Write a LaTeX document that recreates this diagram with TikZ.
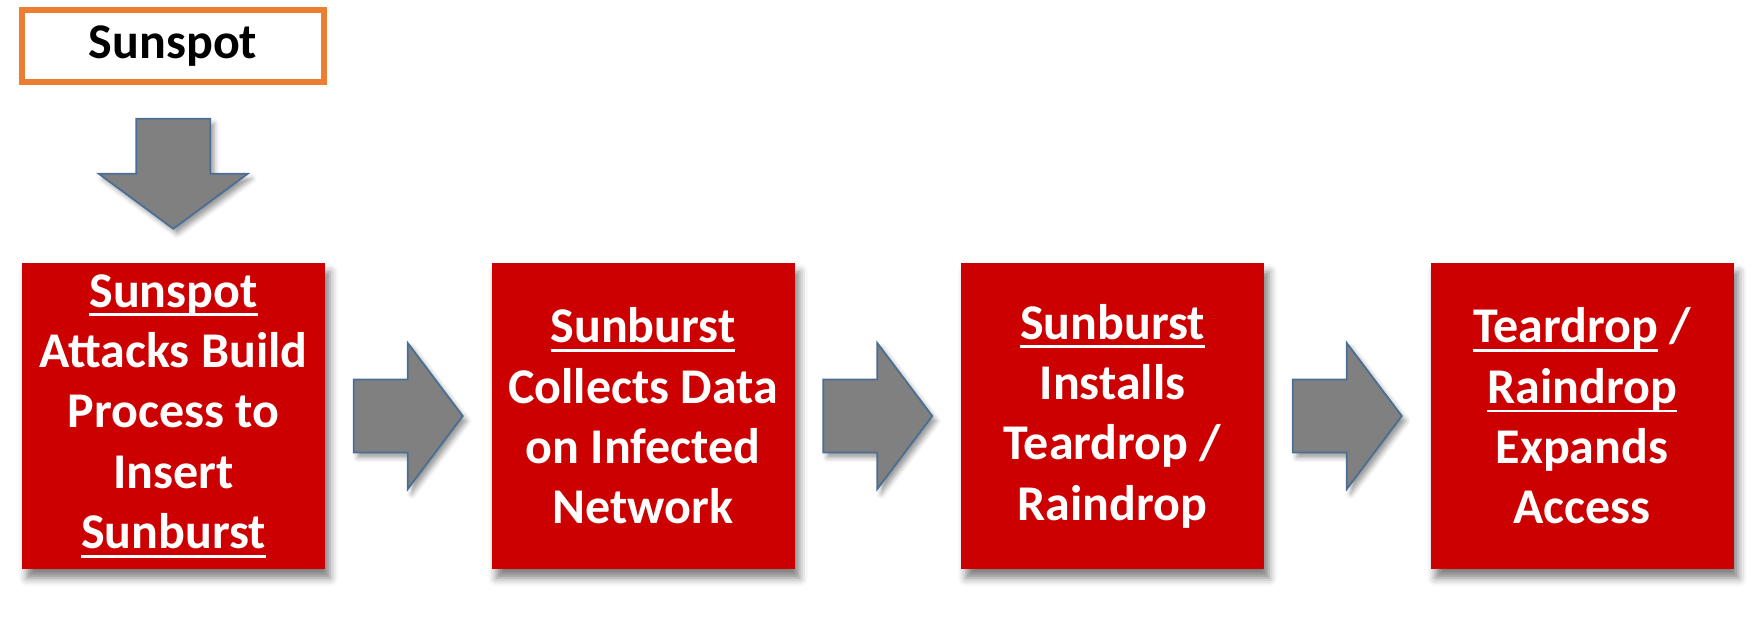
\documentclass[tikz,border=0pt]{standalone}
\usepackage{fontspec}
\setmainfont{Carlito}
\usetikzlibrary{positioning}
\usetikzlibrary{calc}
\usetikzlibrary{shadows.blur}

\definecolor{stagered}{HTML}{CC0000}
\definecolor{arrowgrey}{HTML}{808080}
\definecolor{arrowedge}{HTML}{4A6E94}
\definecolor{spotorange}{HTML}{ED7D31}

% underline the way the slides do it
\newcommand{\ulword}[1]{\setbox0\hbox{#1}\rlap{\rule[-4.6pt]{\wd0}{1.4pt}}\box0\relax}

\tikzset{
  topbox/.style={draw=spotorange, line width=2.8pt, fill=white,
    minimum width=151pt, minimum height=36pt, inner sep=0pt,
    font=\bfseries\fontsize{25}{28}\selectfont},
  stage/.style={fill=stagered, text=white, align=center,
    minimum width=151.5pt, minimum height=153pt, inner sep=0pt,
    font=\bfseries\fontsize{25}{30.2}\selectfont,
    blur shadow={shadow xshift=2.5pt, shadow yshift=-4.5pt,
      shadow blur radius=4pt, shadow opacity=50}},
  blockarrow/.style={fill=arrowgrey, draw=arrowedge, line width=0.9pt,
    line join=miter,
    blur shadow={shadow xshift=2pt, shadow yshift=-2.5pt,
      shadow blur radius=2.5pt, shadow opacity=40}}
}

\begin{document}
\begin{tikzpicture}
\useasboundingbox (0,0) rectangle (882pt,-317pt);

\node[topbox] (spot) at (86.5pt,-23pt) {Sunspot};

\node[stage] (s1) at (86.75pt,-208pt)
  {\ulword{Sunspot}\\Attacks Build\\Process to\\Insert\\\ulword{Sunburst}};
\node[stage, right=82.85pt of s1] (s2)
  {\ulword{Sunburst}\\Collects Data\\on Infected\\Network};
\node[stage, right=82.85pt of s2] (s3)
  {\ulword{Sunburst}\\Installs\\Teardrop /\\Raindrop};
\node[stage, right=82.85pt of s3] (s4)
  {\ulword{Teardrop} /\\\ulword{Raindrop}\\Expands\\Access};

% down arrow from the top box
\draw[blockarrow] ($(spot.south)!0.5!(s1.north)$) ++(-18.5pt,27.5pt)
  -- ++(37pt,0) -- ++(0,-27.5pt) -- ++(18.75pt,0) -- ++(-37.25pt,-27.5pt)
  -- ++(-37.25pt,27.5pt) -- ++(18.75pt,0) -- cycle;

% arrows between the stages
\foreach \a/\b in {s1/s2, s2/s3, s3/s4}
  \draw[blockarrow] ($(\a.east)!0.5!(\b.west)$) ++(-27.25pt,18.25pt)
    -- ++(27pt,0) -- ++(0,18.25pt) -- ++(27.5pt,-36.5pt)
    -- ++(-27.5pt,-36.5pt) -- ++(0,18.25pt) -- ++(-27pt,0) -- cycle;
\end{tikzpicture}
\end{document}
